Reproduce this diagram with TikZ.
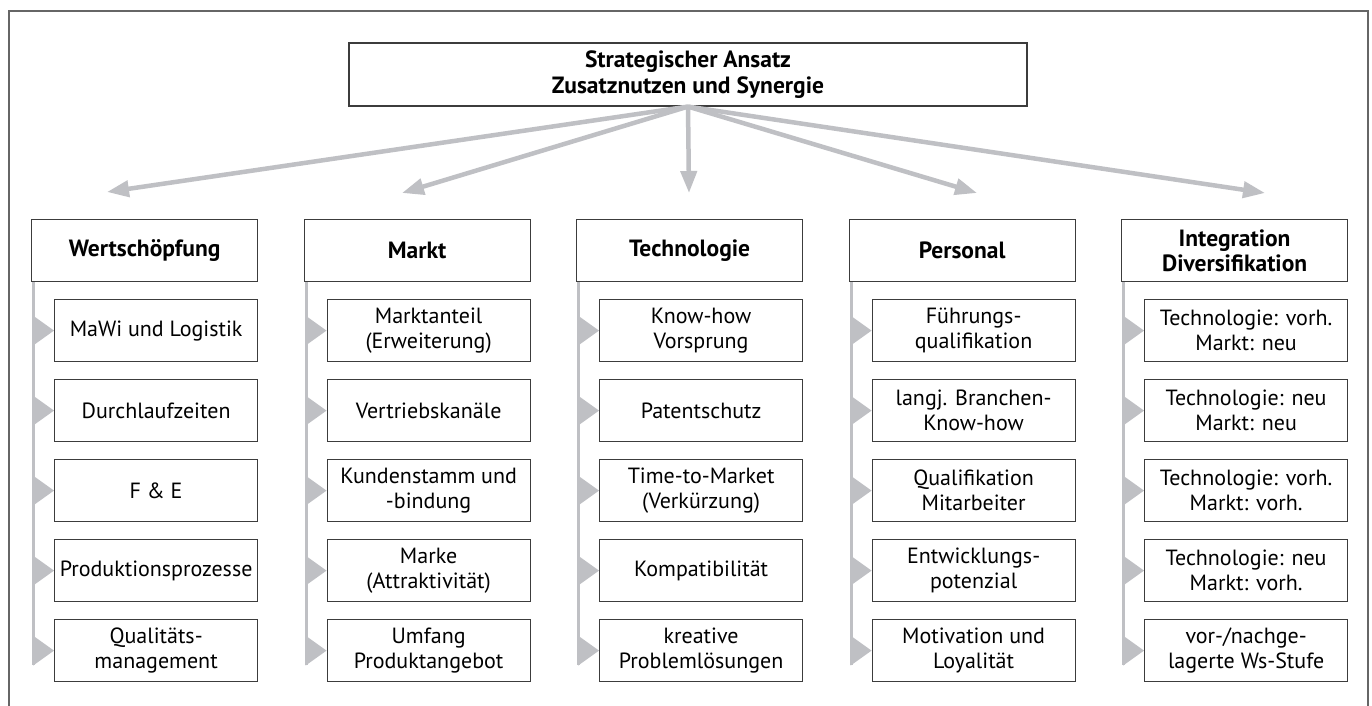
\documentclass[tikz,border=0pt]{standalone}
\usepackage{fontspec}
\setmainfont{PT Sans}
\usetikzlibrary{arrows.meta,calc}
\definecolor{boxline}{HTML}{3C3C3C}
\definecolor{frameline}{HTML}{666666}
\definecolor{arrowgray}{HTML}{BFC0C4}
\tikzset{
  topbox/.style={draw=boxline,line width=1.2pt,minimum width=678pt,minimum height=63pt,inner sep=0pt,align=center,font=\fontsize{23.5}{26}\selectfont\bfseries},
  headbox/.style={draw=boxline,line width=1.2pt,minimum width=226pt,minimum height=62pt,inner sep=0pt,align=center,font=\fontsize{23.5}{25}\selectfont\bfseries,anchor=north west},
  itembox/.style={draw=boxline,line width=1.2pt,minimum width=203pt,minimum height=62pt,inner sep=0pt,align=center,font=\fontsize{22}{25}\selectfont,anchor=north west},
  bigarrow/.style={draw=arrowgray,line width=4.5pt,-{Triangle[length=22pt,width=16pt]}},
  spine/.style={draw=arrowgray,line width=3pt},
  marker/.style={fill=arrowgray,draw=none}
}
\newcommand{\mkitem}[4]{% col, k, xleft, text
  \node[itembox] (i#1-#2) at (#3+23,299+80*#2) {#4};
  \fill[marker] (i#1-#2.west) -- ++(-21,-15) -- ++(0,30) -- cycle;
}
\newcommand{\mkcol}[8]{% col, xleft, header, 5 items
  \node[headbox] (h#1) at (#2,219) {#3};
  \coordinate (s#1) at ($(h#1.south west)+(2.5,0)$);
  \coordinate (e#1) at (#2+2.5,665);
  \draw[spine] (s#1) -- (e#1);
  \mkitem{#1}{0}{#2}{#4}
  \mkitem{#1}{1}{#2}{#5}
  \mkitem{#1}{2}{#2}{#6}
  \mkitem{#1}{3}{#2}{#7}
  \mkitem{#1}{4}{#2}{#8}
}
\begin{document}
\begin{tikzpicture}[x=1pt,y=-1pt]
\useasboundingbox (0,0) rectangle (1372,706);
\fill[white] (0,0) rectangle (1372,706);
\draw[frameline,line width=1.5pt] (9,712) -- (9,11) -- (1368,11) -- (1368,712);
\node[topbox] (top) at (688,74.5) {Strategischer Ansatz\\Zusatznutzen und Synergie};
\coordinate (a1) at (107,192);
\coordinate (a2) at (402,193);
\coordinate (a3) at (689,193);
\coordinate (a4) at (977,193);
\coordinate (a5) at (1265,193);
\draw[bigarrow] (top.south) -- (a1);
\draw[bigarrow] (top.south) -- (a2);
\draw[bigarrow] (top.south) -- (a3);
\draw[bigarrow] (top.south) -- (a4);
\draw[bigarrow] (top.south) -- (a5);
\mkcol{1}{31}{Wertschöpfung}{MaWi und Logistik}{Durchlaufzeiten}{F \& E}{Produktionsprozesse}{Qualitäts-\\management}
\mkcol{2}{303.5}{Markt}{Marktanteil\\(Erweiterung)}{Vertriebskanäle}{Kundenstamm und\\-bindung}{Marke\\(Attraktivität)}{Umfang\\Produktangebot}
\mkcol{3}{576}{Technologie}{Know-how\\Vorsprung}{Patentschutz}{Time-to-Market\\(Verkürzung)}{Kompatibilität}{kreative\\Problemlösungen}
\mkcol{4}{848.5}{Personal}{Führungs-\\qualifikation}{langj. Branchen-\\Know-how}{Qualifikation\\Mitarbeiter}{Entwicklungs-\\potenzial}{Motivation und\\Loyalität}
\mkcol{5}{1121}{Integration\\Diversifikation}{Technologie: vorh.\\Markt: neu}{Technologie: neu\\Markt: neu}{Technologie: vorh.\\Markt: vorh.}{Technologie: neu\\Markt: vorh.}{vor-/nachge-\\lagerte Ws-Stufe}
\end{tikzpicture}
\end{document}
